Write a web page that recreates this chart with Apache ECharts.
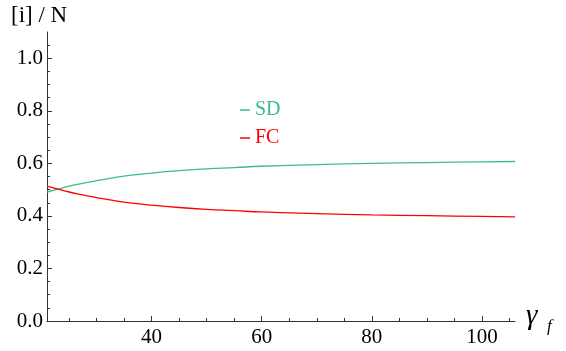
<!DOCTYPE html>
<html>
<head>
<meta charset="utf-8">
<script src="https://cdn.jsdelivr.net/npm/echarts@6/dist/echarts.min.js"></script>
<style>
html, body { margin: 0; padding: 0; background: #fff; }
#chart { width: 566px; height: 351px; }
</style>
</head>
<body>
<div id="chart"></div>
<script>
// values
var gammaF = [21, 23, 25, 27, 30, 33, 36, 40, 45, 50, 55, 60, 70, 80, 90, 100, 106];
var sdVals = [0.491, 0.502, 0.513, 0.522, 0.534, 0.545, 0.554, 0.563, 0.572, 0.579, 0.584, 0.589, 0.595, 0.600, 0.603, 0.606, 0.607];
var fcVals = [0.513, 0.502, 0.491, 0.482, 0.470, 0.459, 0.450, 0.441, 0.432, 0.425, 0.420, 0.415, 0.409, 0.404, 0.401, 0.398, 0.396];
var xMajor = [40, 60, 80, 100];
var xMinor = [25, 30, 35, 45, 50, 55, 65, 70, 75, 85, 90, 95, 105];
var yMajor = [0, 0.2, 0.4, 0.6, 0.8, 1.0];
var yMinor = [0.05, 0.1, 0.15, 0.25, 0.3, 0.35, 0.45, 0.5, 0.55, 0.65, 0.7, 0.75, 0.85, 0.9, 0.95, 1.05];

var serif = 'Liberation Serif';
var sdColor = '#3dbb8c';
var fcColor = '#ff0000';

function pairs(xs, ys) {
	var out = [];
	for (var i = 0; i < xs.length; i++) out.push([xs[i], ys[i]]);
	return out;
}

var axisLine = { show: true, onZero: false, lineStyle: { color: '#333', width: 1 } };

var chart = echarts.init(document.getElementById('chart'));
var option = {
	animation: false,
	textStyle: { fontFamily: serif },
	grid: { left: 47, right: 51, top: 32, bottom: 30 },
	legend: {
		orient: 'vertical',
		left: 240,
		top: 100,
		padding: 0,
		itemWidth: 10,
		itemHeight: 1.5,
		itemGap: 8,
		icon: 'rect',
		data: [
			{ name: 'SD', textStyle: { color: sdColor, fontFamily: serif } },
			{ name: 'FC', textStyle: { color: fcColor, fontFamily: serif } }
		],
		textStyle: { fontFamily: serif, fontSize: 20, lineHeight: 20 }
	},
	xAxis: [{
		type: 'value', min: 21, max: 106,
		axisLine: axisLine,
		splitLine: { show: false },
		axisTick: { inside: true, length: 5, customValues: xMajor, lineStyle: { color: '#333' } },
		axisLabel: { customValues: xMajor, color: '#000', fontFamily: serif, fontSize: 21, margin: 6 }
	}, {
		type: 'value', min: 21, max: 106, position: 'bottom',
		axisLine: { show: false },
		splitLine: { show: false },
		axisTick: { inside: true, length: 3, customValues: xMinor, lineStyle: { color: '#333' } },
		axisLabel: { show: false }
	}],
	yAxis: [{
		type: 'value', min: 0, max: 1.1,
		axisLine: axisLine,
		splitLine: { show: false },
		axisTick: { inside: true, length: 5, customValues: yMajor, lineStyle: { color: '#333' } },
		axisLabel: {
			customValues: yMajor, color: '#000', fontFamily: serif, fontSize: 21, margin: 4,
			formatter: function (v) { return v.toFixed(1); }
		}
	}, {
		type: 'value', min: 0, max: 1.1, position: 'left',
		axisLine: { show: false },
		splitLine: { show: false },
		axisTick: { inside: true, length: 3, customValues: yMinor, lineStyle: { color: '#333' } },
		axisLabel: { show: false }
	}],
	series: [{
		name: 'SD', type: 'line', smooth: true, showSymbol: false,
		data: pairs(gammaF, sdVals),
		itemStyle: { color: sdColor },
		lineStyle: { color: sdColor, width: 1.3 }
	}, {
		name: 'FC', type: 'line', smooth: true, showSymbol: false,
		data: pairs(gammaF, fcVals),
		itemStyle: { color: fcColor },
		lineStyle: { color: fcColor, width: 1.3 }
	}],
	graphic: [
		{ type: 'text', left: 11, top: 4, style: { text: '[i] / N', fontFamily: serif, fontSize: 23, fill: '#000' } },
		{ type: 'text', left: 526, top: 302, style: { text: 'γ', fontFamily: serif, fontStyle: 'italic', fontSize: 29, fill: '#000' } },
		{ type: 'text', left: 547, top: 318, style: { text: 'f', fontFamily: serif, fontStyle: 'italic', fontSize: 17, fill: '#000' } }
	]
};
chart.setOption(option);
</script>
</body>
</html>
